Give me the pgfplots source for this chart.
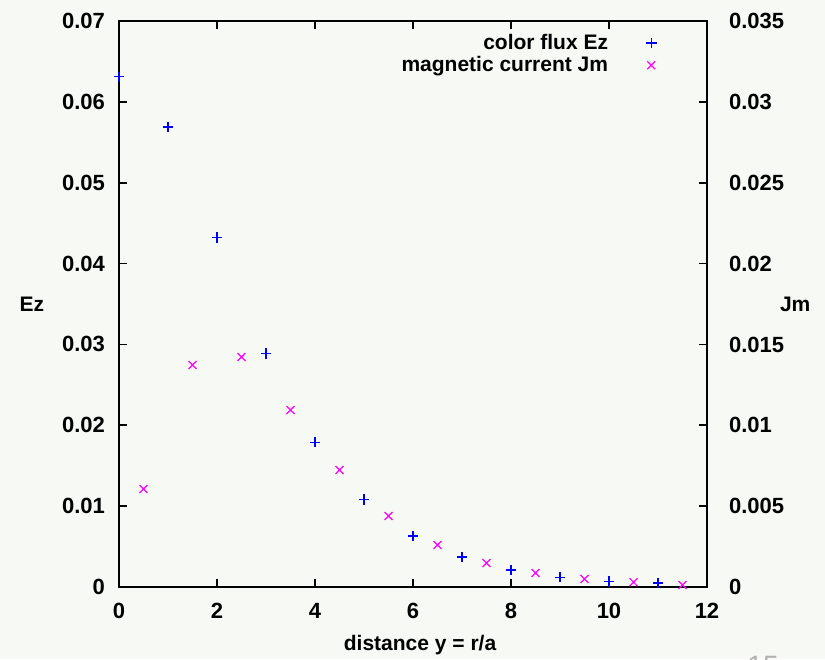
\documentclass[border=0pt]{standalone}
\usepackage{pgfplots}
\pgfplotsset{compat=1.18}
\usepackage{fontspec}
\setmainfont{Liberation Sans}
\definecolor{bg}{RGB}{247,249,244}
\definecolor{jmcol}{RGB}{255,0,255}
\definecolor{ezcol}{RGB}{0,0,255}
\pgfplotsset{base/.style={
  width=294pt, height=283pt, scale only axis,
  xmin=0, xmax=12,
  scaled x ticks=false, scaled y ticks=false,
  axis line style={line width=1pt},
  tick style={line width=0.8pt, black},
  major tick length=4pt, tick align=inside,
  ticklabel style={font=\fontsize{11}{13}\selectfont\bfseries},
  label style={font=\fontsize{10.5}{12}\selectfont\bfseries},
}}
\begin{document}
\begin{tikzpicture}
\fill[bg] (-59.5pt,-36pt) rectangle (353pt,293.5pt);
\begin{axis}[base,
  ymin=0, ymax=0.07,
  xtick={0,2,4,6,8,10,12}, xticklabels={0,2,4,6,8,10,12},
  ytick={0,0.01,0.02,0.03,0.04,0.05,0.06,0.07},
  yticklabels={0,0.01,0.02,0.03,0.04,0.05,0.06,0.07},
  xtick pos=both, ytick pos=left,
  yticklabel style={xshift=-3.5pt},
  xticklabel style={yshift=-4.5pt},
  ylabel={Ez},
  ylabel style={at={(axis description cs:-0.148,0.5)}, rotate=-90, anchor=center},
  xlabel={distance y = r/a},
  xlabel style={at={(axis description cs:0.512,-0.1025)}, anchor=center},
]
\addplot[only marks, mark=+, ezcol, mark size=2.6pt, mark options={line width=0.6pt, draw=ezcol}] coordinates {
(0,0.0631) (1,0.0569) (2,0.0432) (3,0.0289) (4,0.0179) (5,0.0108)
(6,0.0063) (7,0.0037) (8,0.0021) (9,0.0012) (10,0.0007) (11,0.0005)
};
\end{axis}
\begin{axis}[base,
  ymin=0, ymax=0.035,
  hide x axis, axis y line*=right,
  ytick={0,0.005,0.01,0.015,0.02,0.025,0.03,0.035},
  yticklabels={0,0.005,0.01,0.015,0.02,0.025,0.03,0.035},
  yticklabel style={xshift=7.5pt},
  ylabel={Jm},
  ylabel style={at={(axis description cs:1.150,0.5)}, rotate=-90, anchor=center},
  legend plot pos=right,
  legend cell align=right,
  legend style={draw=none, fill=none, at={(axis description cs:0.925,0.992)}, anchor=north east,
    font=\fontsize{10.5}{12}\selectfont\bfseries, row sep=-2pt, column sep=17pt},
]
\addlegendimage{only marks, mark=+, ezcol, mark size=2.6pt, mark options={line width=0.6pt, draw=ezcol}}
\addlegendentry{color flux Ez}
\addplot[only marks, mark=x, jmcol, mark size=2.8pt, mark options={line width=0.6pt, draw=jmcol}] coordinates {
(0.5,0.00606) (1.5,0.01373) (2.5,0.01422) (3.5,0.01094) (4.5,0.00723) (5.5,0.00439)
(6.5,0.0026) (7.5,0.00148) (8.5,0.00087) (9.5,0.0005) (10.5,0.0003) (11.5,0.00012)
};
\addlegendentry{magnetic current Jm}
\end{axis}
\node[gray!60, font=\fontsize{14}{16}\selectfont] at (322pt,-39.5pt) {15};
\pgfresetboundingbox
\path[use as bounding box] (-59.5pt,-36pt) rectangle (353pt,293.5pt);
\end{tikzpicture}
\end{document}
